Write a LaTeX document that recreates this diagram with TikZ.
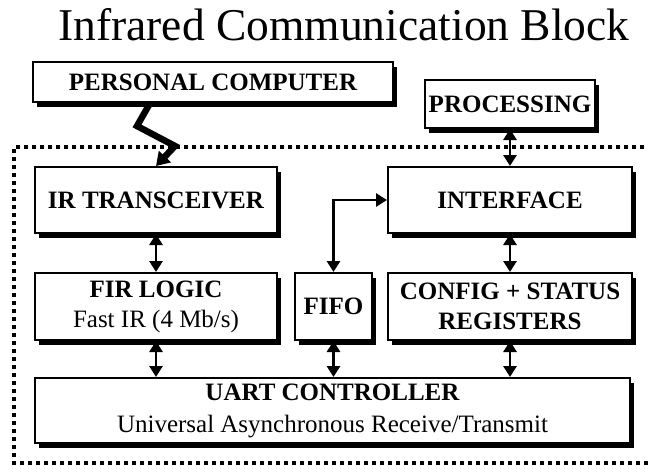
\documentclass[tikz,border=0pt]{standalone}
\usepackage{fontspec}
\setmainfont{Liberation Serif}
\usetikzlibrary{arrows.meta,shadows,calc}

% second, plain line inside a block
\newcommand{\blocknote}{\mdseries}

\tikzset{
  block/.style={draw=black,line width=2pt,fill=white,align=center,
    minimum height=66pt,inner sep=0pt,
    font=\fontsize{25}{30}\selectfont\bfseries,
    general shadow={fill=black,shadow xshift=4pt,shadow yshift=-5pt}},
  link/.style={line width=2.8pt,{Triangle[length=11pt,width=13pt]}-{Triangle[length=11pt,width=13pt]}},
  bolt/.style={line width=6.5pt,line join=miter,-{Triangle[length=13pt,width=16pt]}},
  boundary/.style={line width=3.6pt,dash pattern=on 3.6pt off 4.4pt}
}

\begin{document}
\begin{tikzpicture}[x=1pt,y=-1pt]
  \useasboundingbox (0,0) rectangle (648,472);

  % title
  \node[font=\fontsize{45.5}{50}\selectfont] (title) at (344,25) {Infrared Communication Block};

  % outside the block
  \node[block,minimum width=360pt,minimum height=40pt] (pc) at (213,82) {PERSONAL COMPUTER};
  \node[block,minimum width=170pt,minimum height=48pt] (proc) at (510,104) {PROCESSING};

  % block boundary (runs off to the right)
  \draw[boundary] (660,147) -- (14,147) -- (14,463) -- (660,463);

  % inside the block
  \node[block,minimum width=242pt] (irx) at (156,200) {IR TRANSCEIVER};
  \node[block,minimum width=244pt] (iface) at (510,200) {INTERFACE};
  \node[block,minimum width=242pt,minimum height=67pt] (fir) at (156,306.5)
    {FIR LOGIC\\{\blocknote Fast IR (4 Mb/s)}};
  \node[block,minimum width=77pt,minimum height=67pt] (fifo) at (333.5,306.5) {FIFO};
  \node[block,minimum width=244pt,minimum height=67pt] (cfg) at (510,306.5)
    {CONFIG + STATUS\\REGISTERS};
  \node[block,minimum width=595pt,minimum height=65pt] (uart) at (332.5,410.5)
    {UART CONTROLLER\\[2pt]{\blocknote Universal Asynchronous Receive/Transmit}};

  % connections
  \draw[bolt] ($(pc.south)+(-64,2)$) -- ++(-12,21) -- ++(38,20) -- (irx.north);
  \draw[link] (proc.south) -- (iface.north);
  \draw[link] (irx.south) -- (fir.north);
  \draw[link] (iface.south) -- (cfg.north);
  \draw[link] (fifo.north) |- (iface.west);
  \draw[link] (fir.south) -- (fir.south |- uart.north);
  \draw[link] (fifo.south) -- (fifo.south |- uart.north);
  \draw[link] (cfg.south) -- (cfg.south |- uart.north);
\end{tikzpicture}
\end{document}
